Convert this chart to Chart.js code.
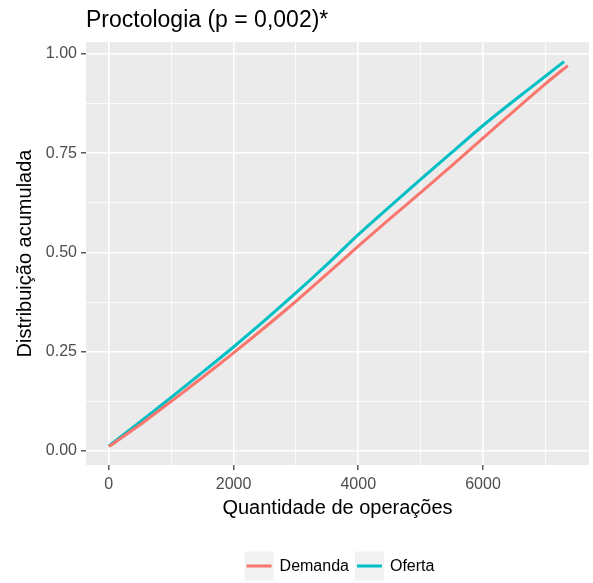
<!DOCTYPE html>
<html>
<head>
<meta charset="utf-8">
<script src="https://cdn.jsdelivr.net/npm/chart.js@4.4.0/dist/chart.umd.min.js"></script>
<style>
  html, body { margin: 0; padding: 0; background: #fff; }
</style>
</head>
<body>
<canvas id="myChart" width="593" height="583"></canvas>
<script>
const chartTitle = "Proctologia (p = 0,002)*";
const xTitle = "Quantidade de operações";
const yTitle = "Distribuição acumulada";
const seriesNames = ["Demanda", "Oferta"];
const seriesColors = ["#F8766D", "#00BFC4"];

// values
const demandaX = [0, 500, 1000, 1500, 2000, 2500, 3000, 3500, 4000, 4500, 5000, 5500, 6000, 6500, 7000, 7360];
const demandaY = [0.011, 0.066, 0.125, 0.185, 0.247, 0.311, 0.377, 0.446, 0.516, 0.584, 0.651, 0.719, 0.788, 0.857, 0.925, 0.971];
const ofertaX = [0, 500, 1000, 1500, 2000, 2500, 3000, 3500, 4000, 4500, 5000, 5500, 6000, 6500, 7000, 7300];
const ofertaY = [0.013, 0.073, 0.135, 0.198, 0.262, 0.329, 0.398, 0.470, 0.545, 0.615, 0.684, 0.752, 0.820, 0.883, 0.944, 0.981];

const xTicks = [0, 1000, 2000, 3000, 4000, 5000, 6000, 7000];
const xLabels = ["0", "", "2000", "", "4000", "", "6000", ""];
const yTicks = [0, 0.125, 0.25, 0.375, 0.5, 0.625, 0.75, 0.875, 1];
const yLabels = ["0.00", "", "0.25", "", "0.50", "", "0.75", "", "1.00"];

const FONT = "'Liberation Sans', Arial, sans-serif";

function toPoints(xs, ys) {
  return xs.map((x, i) => ({ x: x, y: ys[i] }));
}

const panelBg = {
  id: "panelBg",
  beforeDraw(chart) {
    const { ctx, chartArea: a } = chart;
    ctx.save();
    ctx.fillStyle = "#EBEBEB";
    ctx.fillRect(a.left, a.top, a.right - a.left, a.bottom - a.top);
    ctx.restore();
  }
};

const ggText = {
  id: "ggText",
  afterDraw(chart) {
    const { ctx, chartArea: a } = chart;
    ctx.save();
    // title
    ctx.fillStyle = "#000";
    ctx.font = "23px " + FONT;
    ctx.textAlign = "left";
    ctx.textBaseline = "alphabetic";
    ctx.fillText(chartTitle, a.left, 27);

    // legend
    ctx.font = "16px " + FONT;
    const keyW = 29, gapText = 6, gapItem = 6;
    const widths = seriesNames.map(n => ctx.measureText(n).width);
    let total = 0;
    widths.forEach((w, i) => { total += keyW + gapText + w + (i ? gapItem : 0); });
    let x = (a.left + a.right) / 2 + 2 - total / 2;
    const cy = 566;
    seriesNames.forEach((name, i) => {
      ctx.fillStyle = "#F2F2F2";
      ctx.fillRect(x, cy - keyW / 2, keyW, keyW);
      ctx.strokeStyle = seriesColors[i];
      ctx.lineWidth = 3;
      ctx.beginPath();
      ctx.moveTo(x + 2, cy);
      ctx.lineTo(x + keyW - 2, cy);
      ctx.stroke();
      ctx.fillStyle = "#000";
      ctx.textBaseline = "middle";
      ctx.fillText(name, x + keyW + gapText, cy + 1);
      x += keyW + gapText + widths[i] + gapItem;
    });
    ctx.restore();
  }
};

const ctx = document.getElementById("myChart").getContext("2d");

const myChart = new Chart(ctx, {
  type: "line",
  data: {
    datasets: [
      {
        label: seriesNames[0],
        data: toPoints(demandaX, demandaY),
        borderColor: seriesColors[0],
        borderWidth: 3,
        pointRadius: 0,
        fill: false,
        tension: 0.2
      },
      {
        label: seriesNames[1],
        data: toPoints(ofertaX, ofertaY),
        borderColor: seriesColors[1],
        borderWidth: 3,
        pointRadius: 0,
        fill: false,
        tension: 0.2
      }
    ]
  },
  options: {
    responsive: false,
    animation: false,
    devicePixelRatio: 1,
    layout: { padding: { top: 42, right: 4, bottom: 58, left: 0 } },
    plugins: {
      legend: { display: false },
      tooltip: { enabled: false }
    },
    scales: {
      x: {
        type: "linear",
        min: -366,
        max: 7700,
        afterBuildTicks: (scale) => { scale.ticks = xTicks.map(v => ({ value: v })); },
        afterFit: (scale) => { scale.height = 60; },
        border: { display: false },
        grid: {
          color: "#FFFFFF",
          lineWidth: (c) => (c.tick && c.tick.value % 2000 === 0) ? 1.6 : 0.8,
          tickLength: 5,
          tickWidth: 1.2,
          tickColor: (c) => (c.tick && c.tick.value % 2000 === 0) ? "#333333" : "rgba(0,0,0,0)"
        },
        ticks: {
          autoSkip: false,
          maxRotation: 0,
          padding: 5,
          color: "#4D4D4D",
          font: { family: FONT, size: 16 },
          callback: (value, index) => xLabels[index]
        },
        title: {
          display: true,
          text: xTitle,
          color: "#000",
          font: { family: FONT, size: 20 },
          padding: { top: 0, bottom: 5 }
        }
      },
      y: {
        min: -0.0353,
        max: 1.0303,
        afterBuildTicks: (scale) => { scale.ticks = yTicks.map(v => ({ value: v })); },
        afterFit: (scale) => { scale.width = 86; },
        border: { display: false },
        grid: {
          color: "#FFFFFF",
          lineWidth: (c) => (c.tick && Math.round(c.tick.value * 1000) % 250 === 0) ? 1.6 : 0.8,
          tickLength: 5,
          tickWidth: 1.2,
          tickColor: (c) => (c.tick && Math.round(c.tick.value * 1000) % 250 === 0) ? "#333333" : "rgba(0,0,0,0)"
        },
        ticks: {
          autoSkip: false,
          padding: 4,
          color: "#4D4D4D",
          font: { family: FONT, size: 16 },
          callback: (value, index) => yLabels[index]
        },
        title: {
          display: true,
          text: yTitle,
          color: "#000",
          font: { family: FONT, size: 20 },
          padding: { top: 13, bottom: 0 }
        }
      }
    }
  },
  plugins: [panelBg, ggText]
});
</script>
</body>
</html>
